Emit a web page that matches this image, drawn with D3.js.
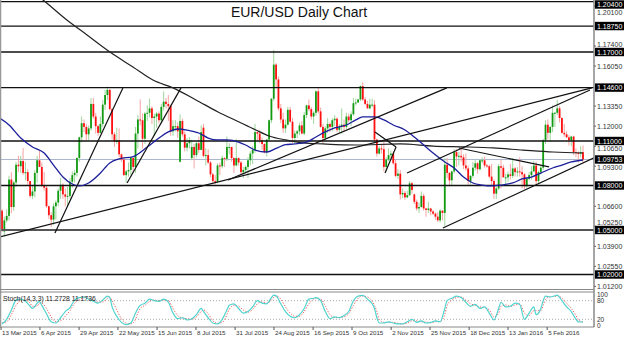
<!DOCTYPE html>
<html>
<head>
<meta charset="utf-8">
<script src="https://cdn.jsdelivr.net/npm/d3@7"></script>
<style>
  body { margin: 0; background: #fff; }
  svg { display: block; font-family: "Liberation Sans", Arial, sans-serif; }
</style>
</head>
<body>
<svg id="chart" width="624" height="338"></svg>
<script>
// Daily bars, 13 Mar 2015 .. 26 Feb 2016 (weekdays, holidays skipped)
const opens = [
1.0630,1.0490,1.0565,1.0595,1.0840,1.0655,1.0820,1.0940,1.0930,1.0965,1.0885,1.0890,1.0830,1.0730,1.0760,1.0885,1.0970,1.0925,1.0800,1.0785,
1.0660,1.0600,1.0570,1.0660,1.0685,1.0765,1.0805,1.0740,1.0725,1.0730,1.0825,1.0870,1.0885,1.0985,1.1125,1.1220,1.1195,1.1145,1.1185,1.1350,
1.1265,1.1200,1.1155,1.1215,1.1345,1.1410,1.1445,1.1315,1.1145,1.1095,1.1105,1.1010,1.0975,1.0870,1.0895,1.0905,1.0985,1.0925,1.1150,1.1245,
1.1240,1.1115,1.1285,1.1290,1.1320,1.1255,1.1265,1.1285,1.1240,1.1330,1.1365,1.1350,1.1335,1.1165,1.1200,1.1200,1.0960,1.1235,1.1145,1.1055,
1.1085,1.0985,1.1060,1.1005,1.1085,1.1040,1.1190,1.1000,1.1005,1.0955,1.0875,1.0830,1.0825,1.0935,1.0930,1.0985,1.0980,1.1060,1.1060,1.0985,
1.0935,1.0985,1.0955,1.0890,1.0905,1.0925,1.0970,1.1015,1.1040,1.1160,1.1150,1.1105,1.1080,1.1025,1.1110,1.1240,1.1385,1.1615,1.1515,1.1320,
1.1245,1.1185,1.1210,1.1310,1.1230,1.1120,1.1150,1.1165,1.1205,1.1150,1.1275,1.1340,1.1315,1.1265,1.1290,1.1435,1.1300,1.1195,1.1120,1.1185,
1.1215,1.1195,1.1240,1.1250,1.1175,1.1195,1.1210,1.1195,1.1265,1.1240,1.1280,1.1355,1.1360,1.1380,1.1470,1.1380,1.1350,1.1320,1.1345,1.1345,
1.1110,1.1015,1.1050,1.1045,1.0925,1.0975,1.1005,1.1015,1.0950,1.0865,1.0880,1.0740,1.0750,1.0720,1.0735,1.0815,1.0740,1.0690,1.0645,1.0655,
1.0730,1.0645,1.0635,1.0645,1.0625,1.0610,1.0590,1.0565,1.0630,1.0615,1.0940,1.0885,1.0835,1.0895,1.1025,1.0995,1.1000,1.0990,1.0935,1.0915,
1.0830,1.0865,1.0920,1.0950,1.0910,1.0970,1.0970,1.0935,1.0930,1.0860,1.0830,1.0745,1.0780,1.0930,1.0920,1.0855,1.0855,1.0875,1.0865,1.0915,
1.0890,1.0895,1.0890,1.0875,1.0795,1.0845,1.0870,1.0895,1.0935,1.0830,1.0890,1.0920,1.1105,1.1210,1.1155,1.1195,1.1290,1.1290,1.1320,1.1255,
1.1155,1.1145,1.1125,1.1105,1.1130,1.1025,1.1020,1.1015,1.1025
];
const highs = [
1.0640,1.0590,1.0640,1.0866,1.0890,1.0830,1.0960,1.1000,1.1000,1.1052,1.0960,1.0910,1.0830,1.0800,1.0905,1.1000,1.1035,1.0955,1.0890,1.0800,
1.0665,1.0620,1.0680,1.0700,1.0780,1.0850,1.0815,1.0780,1.0790,1.0850,1.0895,1.0905,1.0990,1.1130,1.1265,1.1245,1.1215,1.1205,1.1390,1.1390,
1.1290,1.1210,1.1265,1.1375,1.1445,1.1467,1.1450,1.1320,1.1160,1.1190,1.1185,1.1015,1.0990,1.0905,1.0955,1.0990,1.0990,1.1195,1.1275,1.1380,
1.1285,1.1295,1.1340,1.1385,1.1335,1.1285,1.1295,1.1300,1.1350,1.1435,1.1390,1.1410,1.1345,1.1240,1.1240,1.1225,1.1280,1.1250,1.1165,1.1120,
1.1125,1.1110,1.1080,1.1095,1.1130,1.1205,1.1215,1.1050,1.1045,1.0965,1.0885,1.0870,1.0950,1.0955,1.1000,1.0990,1.1130,1.1085,1.1060,1.0990,
1.1115,1.0990,1.0965,1.0925,1.0935,1.0990,1.1030,1.1065,1.1215,1.1165,1.1175,1.1125,1.1085,1.1115,1.1245,1.1390,1.1714,1.1625,1.1535,1.1350,
1.1290,1.1245,1.1330,1.1330,1.1255,1.1170,1.1175,1.1225,1.1235,1.1295,1.1345,1.1380,1.1330,1.1300,1.1440,1.1460,1.1325,1.1215,1.1200,1.1255,
1.1225,1.1255,1.1275,1.1260,1.1215,1.1320,1.1245,1.1290,1.1285,1.1300,1.1390,1.1385,1.1385,1.1475,1.1495,1.1395,1.1370,1.1385,1.1385,1.1375,
1.1115,1.1065,1.1080,1.1095,1.0990,1.1050,1.1035,1.1030,1.0975,1.0910,1.0905,1.0780,1.0765,1.0765,1.0830,1.0825,1.0745,1.0705,1.0685,1.0760,
1.0745,1.0650,1.0690,1.0650,1.0635,1.0620,1.0620,1.0640,1.0635,1.0985,1.0985,1.0890,1.0900,1.1045,1.1045,1.1025,1.1060,1.1010,1.1015,1.0935,
1.0870,1.0960,1.0975,1.0960,1.0975,1.0990,1.0995,1.0945,1.0940,1.0945,1.0840,1.0790,1.0945,1.0975,1.0940,1.0880,1.0895,1.0945,1.0985,1.0925,
1.0925,1.0990,1.0930,1.0885,1.0855,1.0890,1.0930,1.0965,1.0960,1.0900,1.0935,1.1115,1.1240,1.1245,1.1200,1.1340,1.1295,1.1376,1.1335,1.1260,
1.1215,1.1165,1.1140,1.1135,1.1135,1.1050,1.1030,1.1065,1.1070
];
const lows = [
1.0485,1.0457,1.0550,1.0565,1.0614,1.0630,1.0790,1.0890,1.0885,1.0870,1.0835,1.0800,1.0715,1.0710,1.0720,1.0820,1.0925,1.0790,1.0765,1.0650,
1.0575,1.0521,1.0535,1.0570,1.0660,1.0710,1.0710,1.0660,1.0660,1.0710,1.0785,1.0820,1.0860,1.0960,1.1090,1.1160,1.1105,1.1105,1.1170,1.1250,
1.1150,1.1135,1.1150,1.1195,1.1310,1.1375,1.1305,1.1110,1.1060,1.1080,1.0990,1.0960,1.0865,1.0819,1.0860,1.0870,1.0885,1.0885,1.1050,1.1205,
1.1050,1.1080,1.1235,1.1260,1.1215,1.1135,1.1190,1.1220,1.1220,1.1305,1.1320,1.1235,1.1135,1.1135,1.1165,1.1120,1.0955,1.1130,1.1030,1.1030,
1.1050,1.0970,1.0915,1.0990,1.1020,1.1040,1.0990,1.0935,1.0945,1.0855,1.0810,1.0808,1.0815,1.0870,1.0915,1.0925,1.0965,1.1010,1.0960,1.0885,
1.0930,1.0935,1.0870,1.0850,1.0880,1.0850,1.0935,1.0945,1.1020,1.1100,1.1085,1.1040,1.1015,1.0995,1.1100,1.1220,1.1370,1.1460,1.1305,1.1220,
1.1155,1.1155,1.1205,1.1225,1.1085,1.1085,1.1120,1.1140,1.1145,1.1140,1.1255,1.1300,1.1245,1.1215,1.1270,1.1285,1.1190,1.1085,1.1105,1.1155,
1.1160,1.1165,1.1200,1.1160,1.1155,1.1150,1.1165,1.1180,1.1225,1.1200,1.1270,1.1340,1.1355,1.1370,1.1370,1.1340,1.1320,1.1315,1.1330,1.1095,
1.0995,1.1010,1.1015,1.0895,1.0895,1.0965,1.0985,1.0940,1.0855,1.0845,1.0705,1.0715,1.0705,1.0715,1.0730,1.0745,1.0675,1.0630,1.0615,1.0650,
1.0630,1.0590,1.0615,1.0600,1.0600,1.0570,1.0555,1.0550,1.0565,1.0524,1.0850,1.0795,1.0800,1.0880,1.0925,1.0935,1.0960,1.0910,1.0900,1.0805,
1.0805,1.0850,1.0900,1.0880,1.0900,1.0950,1.0920,1.0920,1.0850,1.0795,1.0710,1.0710,1.0770,1.0780,1.0855,1.0805,1.0825,1.0840,1.0850,1.0860,
1.0860,1.0860,1.0780,1.0775,1.0785,1.0835,1.0840,1.0890,1.0810,1.0810,1.0875,1.0905,1.1080,1.1110,1.1095,1.1160,1.1195,1.1275,1.1225,1.1150,
1.1130,1.1120,1.1070,1.1065,1.1005,1.0990,1.0955,1.0990,1.0960
];
const closes = [
1.0495,1.0565,1.0595,1.0840,1.0655,1.0820,1.0940,1.0930,1.0965,1.0885,1.0890,1.0830,1.0730,1.0760,1.0885,1.0970,1.0925,1.0800,1.0785,1.0660,
1.0600,1.0570,1.0660,1.0685,1.0765,1.0805,1.0740,1.0725,1.0730,1.0825,1.0870,1.0885,1.0985,1.1125,1.1220,1.1195,1.1145,1.1185,1.1350,1.1265,
1.1200,1.1155,1.1215,1.1345,1.1410,1.1445,1.1315,1.1145,1.1095,1.1105,1.1010,1.0975,1.0870,1.0895,1.0905,1.0985,1.0925,1.1150,1.1245,1.1240,
1.1115,1.1285,1.1290,1.1320,1.1255,1.1265,1.1285,1.1240,1.1330,1.1365,1.1350,1.1335,1.1165,1.1200,1.1200,1.1165,1.1235,1.1145,1.1055,1.1085,
1.1105,1.1060,1.1005,1.1085,1.1040,1.1160,1.1000,1.1005,1.0955,1.0875,1.0830,1.0825,1.0935,1.0930,1.0985,1.0980,1.1060,1.1060,1.0985,1.0935,
1.0985,1.0955,1.0890,1.0905,1.0925,1.0970,1.1015,1.1040,1.1160,1.1150,1.1105,1.1080,1.1025,1.1110,1.1240,1.1385,1.1615,1.1515,1.1320,1.1245,
1.1185,1.1210,1.1310,1.1230,1.1120,1.1150,1.1165,1.1205,1.1150,1.1275,1.1340,1.1315,1.1265,1.1290,1.1435,1.1300,1.1195,1.1120,1.1185,1.1215,
1.1195,1.1240,1.1250,1.1175,1.1195,1.1210,1.1195,1.1265,1.1240,1.1280,1.1355,1.1360,1.1380,1.1470,1.1380,1.1350,1.1320,1.1345,1.1345,1.1110,
1.1015,1.1050,1.1045,1.0925,1.0975,1.1005,1.1015,1.0950,1.0865,1.0880,1.0740,1.0750,1.0720,1.0735,1.0815,1.0770,1.0690,1.0645,1.0655,1.0730,
1.0645,1.0635,1.0645,1.0625,1.0610,1.0590,1.0565,1.0630,1.0615,1.0940,1.0885,1.0835,1.0895,1.1025,1.0995,1.1000,1.0990,1.0935,1.0915,1.0830,
1.0865,1.0920,1.0950,1.0910,1.0970,1.0970,1.0935,1.0930,1.0860,1.0830,1.0745,1.0780,1.0930,1.0920,1.0855,1.0855,1.0875,1.0865,1.0915,1.0890,
1.0895,1.0890,1.0875,1.0795,1.0845,1.0870,1.0895,1.0935,1.0830,1.0890,1.0920,1.1105,1.1210,1.1155,1.1195,1.1290,1.1290,1.1320,1.1255,1.1155,
1.1145,1.1125,1.1105,1.1130,1.1025,1.1020,1.1015,1.1025,1.0975
];

// time axis labels; the platform spaces them evenly, so positions are fractional bar indices
const dateLabels = ["13 Mar 2015","6 Apr 2015","29 Apr 2015","22 May 2015","15 Jun 2015","8 Jul 2015","31 Jul 2015",
  "24 Aug 2015","16 Sep 2015","9 Oct 2015","2 Nov 2015","25 Nov 2015","18 Dec 2015","13 Jan 2016","5 Feb 2016"];
const dateIdx = [-0.4,16.2,32.9,49.5,66.2,82.8,99.5,116.1,132.8,149.4,166.1,182.7,199.4,216,232.7];

// price axis (ticks hidden under a level box are left out)
const priceTicks = [1.012,1.0255,1.039,1.0525,1.066,1.093,1.1065,1.12,1.1335,1.1605,1.174,1.201];
const levels = [1.204,1.1875,1.17,1.146,1.11,1.08,1.05,1.02];
const lastPrice = 1.09753;

// moving averages (bar index, price)
const maBlueIdx = [-1,3,8,13,18,22,26,30,33,37,42,46,50,56,62,67,71,75,79,84,88,92,96,101,104,108,113,117,121,125,
  130,134,138,142,147,151,154,159,163,167,172,176,180,184,189,193,197,201,205,209,213,218,222,226,230,235,239,243,248];
const maBlue = [1.1255,1.1208,1.1120,1.1060,1.1019,1.0938,1.0857,1.0810,1.0797,1.0817,1.0884,1.0952,1.0980,1.0995,1.1060,
  1.1120,1.1161,1.1181,1.1174,1.1154,1.1120,1.1107,1.1107,1.1093,1.1073,1.1039,1.1026,1.1050,1.1075,1.1080,1.1093,1.1127,
  1.1161,1.1188,1.1208,1.1242,1.1262,1.1262,1.1242,1.1208,1.1174,1.1127,1.1073,1.1019,1.0959,1.0918,1.0857,1.0817,1.0803,
  1.0797,1.0803,1.0817,1.0844,1.0857,1.0884,1.0918,1.0938,1.0959,1.0972];
const maBlackIdx = [12,17.5,27.7,36.3,46.1,55.9,64.4,73,82.8,92.2,100.3,108.4,114,121.2,128.5,137,151.1,169.9,184,198.5,209.6,222.4,235.2,248];
const maBlack = [1.2118,1.2051,1.1916,1.1815,1.1700,1.1599,1.1511,1.1458,1.1377,1.1296,1.1235,1.1174,1.1134,1.1107,1.1087,
  1.1080,1.1073,1.1080,1.1066,1.1060,1.1053,1.1039,1.1026,1.1019];

// drawn trend lines: [index1, price1, index2, price2]
const trendLines = [
  [-0.9,1.0453,251.8,1.1458],
  [96.5,1.0837,189.9,1.1458],
  [22.6,1.0480,51.6,1.1458],
  [53.4,1.0817,76.4,1.1458],
  [159.2,1.1161,168.2,1.1060],
  [163.5,1.0884,168.2,1.1060],
  [172.9,1.0884,251,1.1444],
  [195,1.1053,233.5,1.0925],
  [188.2,1.0513,252.7,1.0986]
];

// Stochastic (14,3,3)
const stochIdx = [0,2,4,6,8,10,12,13,15,16,17,19,21,23,25,27,29,30,31,33,35,37,39,41,43,45,46,47,49,51,53,55,57,58,59,61,63,65,67,69,
  71,73,75,77,79,81,83,85,86,88,90,92,94,96,97,99,101,103,105,107,109,111,113,115,116,117,119,121,123,125,127,129,131,133,134,136,138,140,
  142,144,146,148,150,152,154,156,158,159,160,161,163,165,167,169,171,173,175,177,179,181,183,185,187,189,190,192,194,196,198,200,202,204,
  206,208,210,212,213,215,217,219,221,223,225,227,228,230,231,232,234,236,237,239,241,243,245,246,248];
const stochK = [5,20,50,82,85,78,62,55,72,78,65,38,12,8,25,45,58,70,82,90,92,85,78,72,82,95,90,60,30,10,3,8,40,55,65,72,85,80,78,85,
  75,40,22,25,18,22,35,55,45,25,8,5,20,50,65,70,55,40,45,60,80,72,70,90,98,96,70,45,30,25,35,55,85,88,90,80,45,22,
  28,25,32,45,80,95,97,85,70,55,25,8,8,12,8,5,5,12,20,10,15,8,10,15,12,55,80,88,95,90,75,62,68,55,
  60,40,18,55,75,60,62,72,68,20,40,60,35,55,80,95,92,96,98,80,60,45,20,12,11.2728];
const stochD = [8,12,35,65,80,82,72,62,63,72,72,55,28,12,15,30,48,60,72,84,90,88,82,75,76,88,92,80,50,22,8,5,20,40,55,65,78,82,80,82,
  80,55,32,24,22,20,28,45,50,38,15,7,10,35,52,65,62,50,43,52,70,76,72,82,92,96,85,60,40,30,30,45,70,85,88,86,62,35,
  26,26,28,38,65,88,95,92,78,65,45,20,10,10,10,7,5,8,15,15,12,11,9,12,13,35,65,82,90,92,82,70,65,60,
  58,50,28,40,62,66,62,66,70,40,32,48,48,48,65,85,93,94,96,88,72,55,32,18,11.1736];

const W = 624, H = 338;
const plotR = 594, mainTop = 0, mainBot = 289, stTop = 292, stBot = 327;

const svg = d3.select("#chart");

const x = d3.scaleLinear().domain([0, 248]).range([2, 583]);
const y = d3.scaleLinear().domain([1.05, 1.17]).range([230, 52]);
const ys = d3.scaleLinear().domain([0, 100]).range([325.5, 294.5]);

const defs = svg.append("defs");
defs.append("clipPath").attr("id", "clipMain")
  .append("rect").attr("x", 0).attr("y", mainTop).attr("width", plotR).attr("height", mainBot - mainTop);
defs.append("clipPath").attr("id", "clipStoch")
  .append("rect").attr("x", 0).attr("y", stTop).attr("width", plotR).attr("height", stBot - stTop);

const main = svg.append("g").attr("clip-path", "url(#clipMain)");

// current price line
main.append("line")
  .attr("x1", 0).attr("x2", plotR)
  .attr("y1", y(lastPrice)).attr("y2", y(lastPrice))
  .attr("stroke", "#a9b7cc").attr("stroke-width", 1);

// candles
const bars = d3.range(closes.length);
const bw = 1.8;
main.append("g").selectAll("line").data(bars).join("line")
  .attr("x1", i => x(i)).attr("x2", i => x(i))
  .attr("y1", i => y(highs[i])).attr("y2", i => y(lows[i]))
  .attr("stroke", i => closes[i] >= opens[i] ? "#9fd69f" : "#f6a3a3")
  .attr("stroke-width", 1);
main.append("g").selectAll("rect").data(bars).join("rect")
  .attr("x", i => x(i) - bw / 2)
  .attr("width", bw)
  .attr("y", i => y(Math.max(opens[i], closes[i])))
  .attr("height", i => Math.max(1, Math.abs(y(opens[i]) - y(closes[i]))))
  .attr("fill", i => closes[i] >= opens[i] ? "#139a13" : "#ff1010");

// horizontal levels
main.append("g").selectAll("line").data(levels).join("line")
  .attr("x1", 0).attr("x2", plotR)
  .attr("y1", d => y(d)).attr("y2", d => y(d))
  .attr("stroke", d => d === 1.05 ? "#555" : "#111")
  .attr("stroke-width", d => d === 1.05 ? 1.8 : 1.3);

// moving averages
const maLine = d3.line().x(d => x(d[0])).y(d => y(d[1])).curve(d3.curveMonotoneX);
main.append("path")
  .attr("d", maLine(maBlackIdx.map((v, k) => [v, maBlack[k]])))
  .attr("fill", "none").attr("stroke", "#222").attr("stroke-width", 1.2);
main.append("path")
  .attr("d", maLine(maBlueIdx.map((v, k) => [v, maBlue[k]])))
  .attr("fill", "none").attr("stroke", "#1c1f9a").attr("stroke-width", 1.3);

// trend lines
main.append("g").selectAll("line").data(trendLines).join("line")
  .attr("x1", d => x(d[0])).attr("y1", d => y(d[1]))
  .attr("x2", d => x(d[2])).attr("y2", d => y(d[3]))
  .attr("stroke", "#111").attr("stroke-width", 1.2);

// title
svg.append("text")
  .attr("x", 299).attr("y", 17)
  .attr("text-anchor", "middle")
  .attr("font-size", 14).attr("fill", "#111")
  .text("EUR/USD Daily Chart");

// frames
svg.append("line").attr("x1", 0.5).attr("x2", 0.5).attr("y1", 0).attr("y2", stBot)
  .attr("stroke", "#999").attr("stroke-width", 1.5);
svg.append("line").attr("x1", plotR).attr("x2", plotR).attr("y1", 0).attr("y2", stBot)
  .attr("stroke", "#888").attr("stroke-width", 1.5);
svg.append("line").attr("x1", 0).attr("x2", plotR).attr("y1", mainBot + 0.5).attr("y2", mainBot + 0.5)
  .attr("stroke", "#888").attr("stroke-width", 1);
svg.append("line").attr("x1", 0).attr("x2", plotR).attr("y1", stTop).attr("y2", stTop)
  .attr("stroke", "#888").attr("stroke-width", 1);
svg.append("line").attr("x1", 0).attr("x2", plotR).attr("y1", stBot).attr("y2", stBot)
  .attr("stroke", "#888").attr("stroke-width", 1);

// boxed level labels (kept inside the picture at the top)
const boxed = levels.concat([lastPrice]);
const boxY = d => Math.max(4.5, y(d));
const boxH = 8.4;

// price axis ticks; a tick label that would sit under a level box is nudged just clear of it
function tickLabelY(v) {
  let ty = y(v);
  boxed.forEach(b => {
    const by = boxY(b), gap = boxH / 2 + 3.6;
    if (Math.abs(ty - by) < gap) ty = ty < by ? by - gap : by + gap;
  });
  return ty;
}
const axisG = svg.append("g").attr("font-size", 7).attr("fill", "#333");
axisG.selectAll("text.tick").data(priceTicks).join("text")
  .attr("class", "tick")
  .attr("x", 597).attr("y", d => tickLabelY(d) + 2.5)
  .text(d => d.toFixed(5));
axisG.selectAll("line.tk").data(priceTicks).join("line")
  .attr("class", "tk")
  .attr("x1", plotR).attr("x2", plotR + 2).attr("y1", d => y(d)).attr("y2", d => y(d))
  .attr("stroke", "#666");

const boxG = svg.append("g");
boxG.selectAll("rect").data(boxed).join("rect")
  .attr("x", plotR + 1).attr("width", W - plotR - 1)
  .attr("y", d => boxY(d) - boxH / 2).attr("height", boxH)
  .attr("fill", "#000");
boxG.selectAll("text").data(boxed).join("text")
  .attr("x", 597).attr("y", d => boxY(d) + 2.5)
  .attr("font-size", 7).attr("fill", "#fff")
  .text(d => d.toFixed(5));

// stochastic panel
const st = svg.append("g").attr("clip-path", "url(#clipStoch)");
st.selectAll("line.lvl").data([80, 20]).join("line")
  .attr("class", "lvl")
  .attr("x1", 0).attr("x2", plotR)
  .attr("y1", d => ys(d)).attr("y2", d => ys(d))
  .attr("stroke", "#aaa").attr("stroke-width", 1).attr("stroke-dasharray", "1,2");
const stLine = d3.line().x(d => x(d[0])).y(d => ys(d[1])).curve(d3.curveMonotoneX);
st.append("path")
  .attr("d", stLine(stochIdx.map((v, k) => [v, stochD[k]])))
  .attr("fill", "none").attr("stroke", "#f05a5a").attr("stroke-width", 1)
  .attr("stroke-dasharray", "1.2,1.6");
st.append("path")
  .attr("d", stLine(stochIdx.map((v, k) => [v, stochK[k]])))
  .attr("fill", "none").attr("stroke", "#4fd3cf").attr("stroke-width", 1.2);

svg.append("text")
  .attr("x", 3).attr("y", 301)
  .attr("font-size", 6.8).attr("fill", "#222")
  .text("Stoch(14,3,3) " + stochK[stochK.length - 1].toFixed(4) + " " + stochD[stochD.length - 1].toFixed(4));

const stAxis = svg.append("g").attr("font-size", 6.5).attr("fill", "#333");
stAxis.selectAll("text").data([100, 80, 20, 0]).join("text")
  .attr("x", 597).attr("y", d => ys(d) + 2.3)
  .text(d => d);

// time axis
const tAxis = svg.append("g");
tAxis.selectAll("line").data(dateIdx).join("line")
  .attr("x1", d => x(d)).attr("x2", d => x(d))
  .attr("y1", stBot).attr("y2", stBot + 3)
  .attr("stroke", "#555");
tAxis.selectAll("text").data(dateIdx).join("text")
  .attr("x", d => x(d) + 1).attr("y", 335)
  .attr("font-size", 6.2).attr("fill", "#333")
  .text((d, k) => dateLabels[k]);
</script>
</body>
</html>
